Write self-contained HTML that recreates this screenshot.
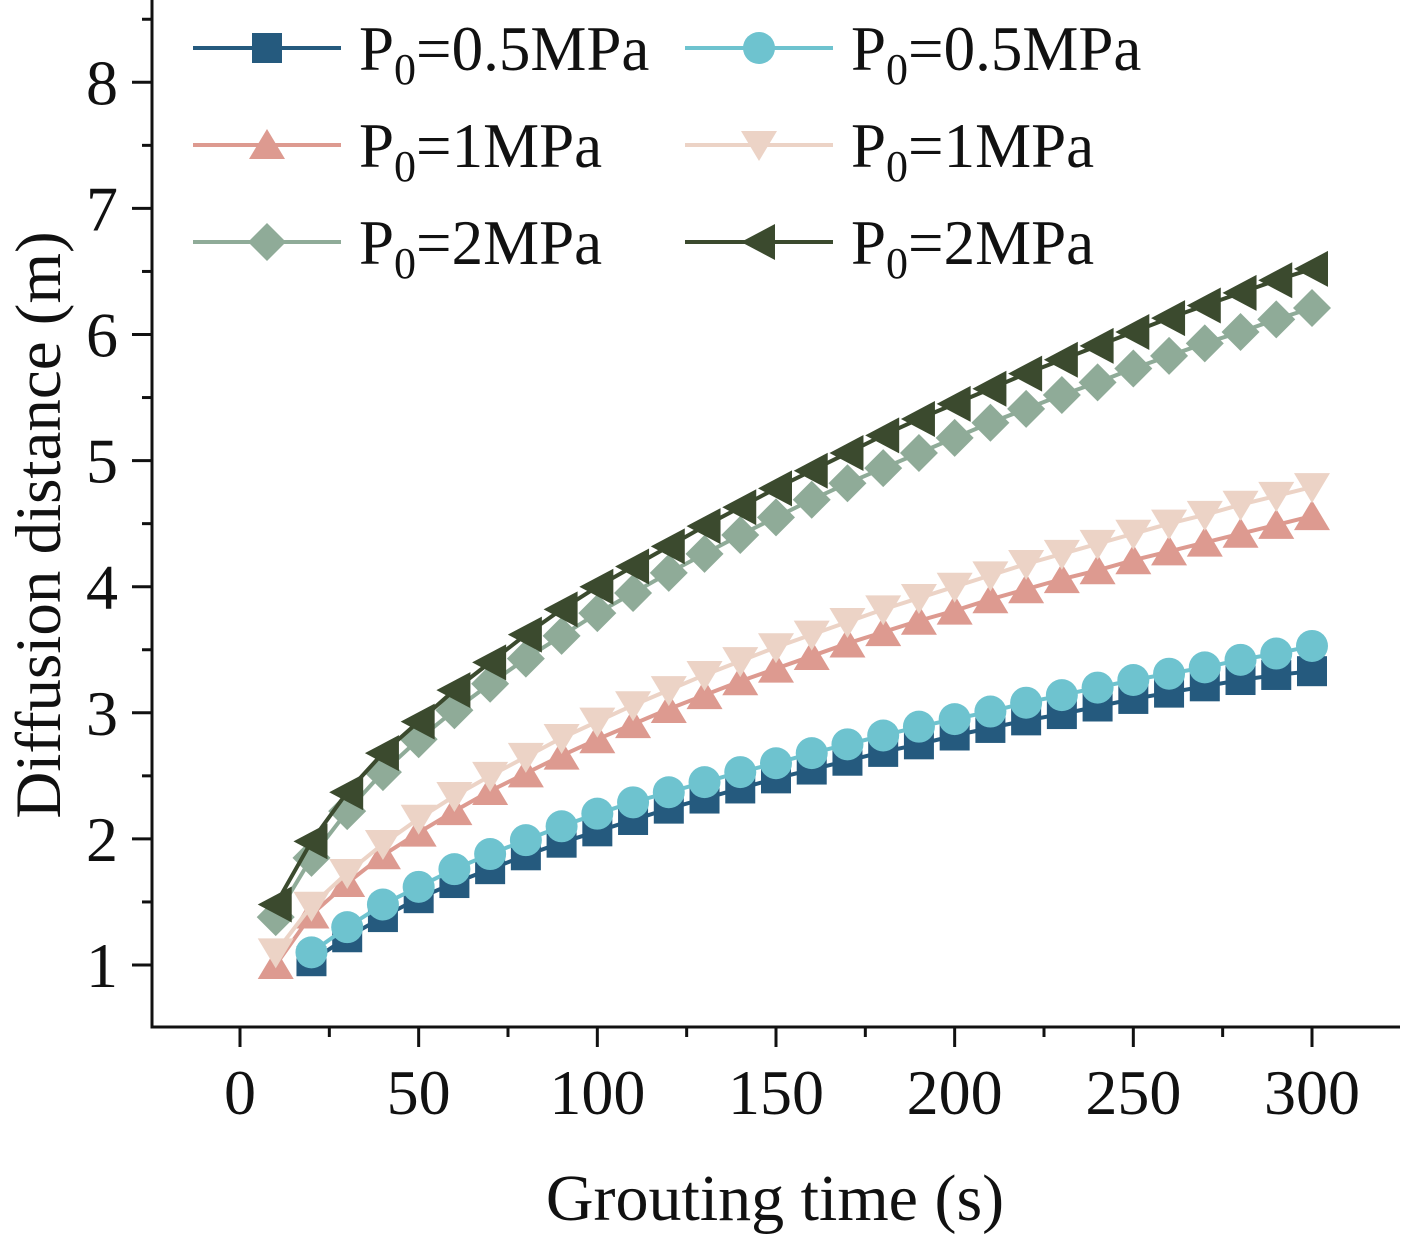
<!DOCTYPE html>
<html><head><meta charset="utf-8"><style>
body{margin:0;background:#fff;}
svg text{font-family:"Liberation Serif",serif;fill:#111;}
</style></head><body>
<svg id="chart" width="1419" height="1252" xmlns="http://www.w3.org/2000/svg">
<g id="axes"></g><g id="series"></g><g id="legend"></g>
<text x="775" y="1220" font-size="66" text-anchor="middle">Grouting time (s)</text>
<text transform="translate(60,525) rotate(-90)" font-size="65" text-anchor="middle">Diffusion distance (m)</text>
</svg>
<script>
const times = [10,20,30,40,50,60,70,80,90,100,110,120,130,140,150,160,170,180,190,200,210,220,230,240,250,260,270,280,290,300];
const blueSquare = [null,1.03,1.22,1.38,1.53,1.65,1.76,1.87,1.97,2.06,2.15,2.24,2.32,2.40,2.48,2.55,2.62,2.69,2.75,2.82,2.88,2.94,2.99,3.05,3.11,3.16,3.21,3.26,3.30,3.33];
const cyanCircle = [null,1.10,1.30,1.48,1.62,1.76,1.88,1.99,2.10,2.20,2.29,2.37,2.45,2.53,2.60,2.68,2.75,2.82,2.89,2.95,3.01,3.08,3.14,3.20,3.26,3.31,3.36,3.42,3.47,3.53];
const pinkUp = [1.00,1.40,1.65,1.87,2.05,2.22,2.38,2.52,2.66,2.79,2.91,3.03,3.14,3.25,3.35,3.45,3.55,3.64,3.73,3.81,3.90,3.98,4.06,4.13,4.21,4.28,4.35,4.42,4.49,4.56];
const lightDown = [1.10,1.47,1.73,1.96,2.16,2.34,2.50,2.65,2.80,2.93,3.06,3.18,3.30,3.41,3.52,3.62,3.72,3.82,3.91,4.00,4.09,4.18,4.26,4.34,4.42,4.50,4.57,4.65,4.72,4.79];
const sageDiamond = [1.38,1.85,2.22,2.53,2.79,3.02,3.23,3.43,3.61,3.79,3.95,4.11,4.26,4.41,4.55,4.69,4.82,4.94,5.06,5.18,5.30,5.41,5.52,5.62,5.73,5.83,5.93,6.02,6.12,6.21];
const darkLeft = [1.48,1.98,2.37,2.68,2.93,3.18,3.40,3.62,3.82,4.00,4.16,4.32,4.48,4.63,4.78,4.92,5.06,5.20,5.33,5.45,5.57,5.69,5.80,5.91,6.02,6.13,6.23,6.33,6.43,6.52];
const xTicks = [0,50,100,150,200,250,300];
const yTicks = [1,2,3,4,5,6,7,8];
const legendLabels = ["=0.5MPa","=0.5MPa","=1MPa","=1MPa","=2MPa","=2MPa"];

const NS="http://www.w3.org/2000/svg";
const X = v => 240 + v*3.5733;
const Y = v => 965 - (v-1)*126.1;
function mk(tag, attrs, parent){const e=document.createElementNS(NS,tag);for(const k in attrs)e.setAttribute(k,attrs[k]);parent.appendChild(e);return e;}
const axes=document.getElementById('axes');
let a=mk('path',{d:'M152,0 V1027 H1400',fill:'none',stroke:'#111','stroke-width':3},axes);


for(let v=-25;v<=325;v+=25){const x=X(v);if(x<152||x>1400)continue;const major=v%50===0;
 const t=mk('line',{x1:x,x2:x,y1:1027,y2:major?1047:1037,stroke:'#111','stroke-width':3},axes);
 
 }
xTicks.forEach(v=>{const t=mk('text',{x:X(v),y:1114,'font-size':64,'text-anchor':'middle'},axes);t.textContent=v;
 
 });
for(let v=0.5;v<=8.5;v+=0.5){const y=Y(v);if(y<0||y>1027)continue;const major=v%1===0;
 const t=mk('line',{x1:152,x2:major?132:142,y1:y,y2:y,stroke:'#111','stroke-width':3},axes);
 
 }
yTicks.forEach(v=>{const t=mk('text',{x:118,y:Y(v)+22,'font-size':64,'text-anchor':'end'},axes);t.textContent=v;
 
 });

function marker(type,cx,cy,color,parent){const s=16;let e;
 if(type==='square')e=mk('rect',{x:cx-s+1,y:cy-s+1,width:2*s-2,height:2*s-2,fill:color},parent);
 else if(type==='circle')e=mk('circle',{cx,cy,r:s,fill:color},parent);
 else if(type==='up')e=mk('polygon',{points:`${cx},${cy-s} ${cx+s+2},${cy+s-2} ${cx-s-2},${cy+s-2}`,fill:color},parent);
 else if(type==='down')e=mk('polygon',{points:`${cx},${cy+s} ${cx+s+2},${cy-s+2} ${cx-s-2},${cy-s+2}`,fill:color},parent);
 else if(type==='diamond')e=mk('polygon',{points:`${cx},${cy-s-3} ${cx+s+3},${cy} ${cx},${cy+s+3} ${cx-s-3},${cy}`,fill:color},parent);
 else e=mk('polygon',{points:`${cx-s-2},${cy} ${cx+s},${cy-s-2} ${cx+s},${cy+s+2}`,fill:color},parent);
 return e;}
const series=[
 {d:blueSquare,c:'#255a7e',m:'square',n:'blue-square'},
 {d:cyanCircle,c:'#6ec3cf',m:'circle',n:'cyan-circle'},
 {d:pinkUp,c:'#dd9a90',m:'up',n:'pink-triangle-up'},
 {d:lightDown,c:'#ecd3c6',m:'down',n:'light-triangle-down'},
 {d:sageDiamond,c:'#8fab98',m:'diamond',n:'sage-diamond'},
 {d:darkLeft,c:'#3b4a2e',m:'left',n:'dark-triangle-left'}];
const sg=document.getElementById('series');
series.forEach(s=>{const g=mk('g',{},sg);
 
 
 const pts=[];times.forEach((t,i)=>{if(s.d[i]!=null)pts.push(X(t)+','+Y(s.d[i]));});
 const l=mk('polyline',{points:pts.join(' '),fill:'none',stroke:s.c,'stroke-width':4},g);
 
 
 times.forEach((t,i)=>{if(s.d[i]==null)return;const e=marker(s.m,X(t),Y(s.d[i]),s.c,g);
  
  });});
const lg=document.getElementById('legend');
series.forEach((s,i)=>{const col=i%2,row=Math.floor(i/2);const x0=col?685:193,y=48+row*97;
 const g=mk('g',{},lg);
 
 
 mk('line',{x1:x0,x2:x0+148,y1:y,y2:y,stroke:s.c,'stroke-width':4},g);
 marker(s.m,x0+74,y,s.c,g);
 const t=mk('text',{x:x0+166,y:y+22,'font-size':63},g);
 t.innerHTML='P<tspan font-size="44" dy="14">0</tspan><tspan dy="-14">'+legendLabels[i]+'</tspan>';});
</script>
</body></html>
